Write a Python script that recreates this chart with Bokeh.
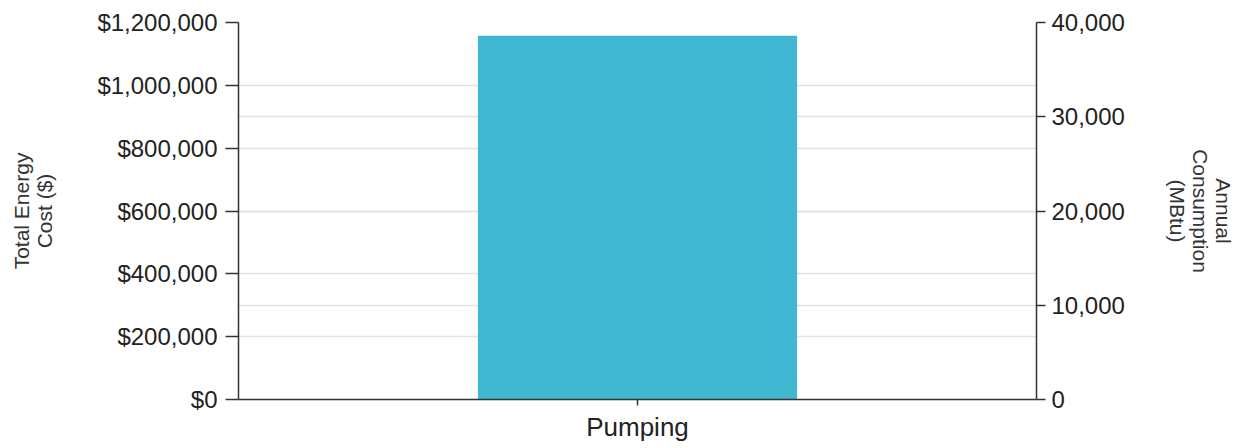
from bokeh.plotting import figure
from bokeh.models import (Range1d, LinearAxis, NumeralTickFormatter, FixedTicker,
                          Grid, FactorRange)
from bokeh.embed import file_html
from bokeh.resources import INLINE

categories = ["Pumping"]
total_cost = [1158000]
left_ticks = [0, 200000, 400000, 600000, 800000, 1000000, 1200000]
right_ticks = [0, 10000, 20000, 30000, 40000]
left_title = "Total Energy\nCost ($)"
right_title = "Annual\nConsumption\n(MBtu)"

FONT = "Liberation Sans"
AXIS_COL = "#333333"

p = figure(x_range=FactorRange(*categories), y_range=Range1d(0, 1200000),
           width=1237, height=448, output_backend="svg", toolbar_location=None,
           min_border_left=238, min_border_right=200, min_border_top=22,
           min_border_bottom=49)
p.extra_y_ranges = {"cons": Range1d(0, 40000)}

p.vbar(x=categories, top=total_cost, width=0.4, fill_color="#40B8D2",
       line_color=None)

p.outline_line_color = None
p.background_fill_color = "white"
p.border_fill_color = "white"

# grids
p.xgrid.visible = False
p.ygrid.ticker = FixedTicker(ticks=left_ticks)
p.ygrid.grid_line_color = "#e2e2e2"
p.ygrid.grid_line_width = 1.5
rgrid = Grid(dimension=1, ticker=FixedTicker(ticks=right_ticks), y_range_name="cons",
             grid_line_color="#e2e2e2", grid_line_width=1.5)
p.add_layout(rgrid)

# left axis
ly = p.yaxis[0]
ly.ticker = FixedTicker(ticks=left_ticks)
ly.formatter = NumeralTickFormatter(format="$0,0")
ly.major_tick_out = 13
ly.major_tick_in = 0
ly.minor_tick_out = 0
ly.minor_tick_in = 0
ly.major_label_standoff = 8
ly.major_label_text_font = FONT
ly.major_label_text_font_size = "24px"
ly.major_label_text_color = "#222222"
ly.axis_line_color = AXIS_COL
ly.axis_line_width = 1.5
ly.major_tick_line_color = AXIS_COL
ly.major_tick_line_width = 1.5
ly.axis_label = left_title
ly.axis_label_text_font = FONT
ly.axis_label_text_font_size = "21px"
ly.axis_label_text_font_style = "normal"
ly.axis_label_text_color = "#333333"
ly.axis_label_text_line_height = 1.0
ly.axis_label_standoff = 38

# right axis
ry = LinearAxis(y_range_name="cons", ticker=FixedTicker(ticks=right_ticks),
                formatter=NumeralTickFormatter(format="0,0"))
ry.major_tick_out = 9
ry.major_tick_in = 0
ry.minor_tick_out = 0
ry.minor_tick_in = 0
ry.major_label_standoff = 6
ry.major_label_text_font = FONT
ry.major_label_text_font_size = "24px"
ry.major_label_text_color = "#222222"
ry.axis_line_color = AXIS_COL
ry.axis_line_width = 1.5
ry.major_tick_line_color = AXIS_COL
ry.major_tick_line_width = 1.5
ry.axis_label = right_title
ry.axis_label_text_font = FONT
ry.axis_label_text_font_size = "21px"
ry.axis_label_text_font_style = "normal"
ry.axis_label_text_color = "#333333"
ry.axis_label_text_line_height = 1.0
ry.axis_label_standoff = 38
p.add_layout(ry, "right")

# x axis
xa = p.xaxis[0]
xa.major_tick_out = 6
xa.major_tick_in = 0
xa.minor_tick_out = 0
xa.major_label_standoff = 6
xa.major_label_text_font = FONT
xa.major_label_text_font_size = "26px"
xa.major_label_text_color = "#222222"
xa.axis_line_color = AXIS_COL
xa.axis_line_width = 1.5
xa.major_tick_line_color = AXIS_COL
xa.major_tick_line_width = 1.5

open("out.html", "w").write(file_html(p, INLINE))
